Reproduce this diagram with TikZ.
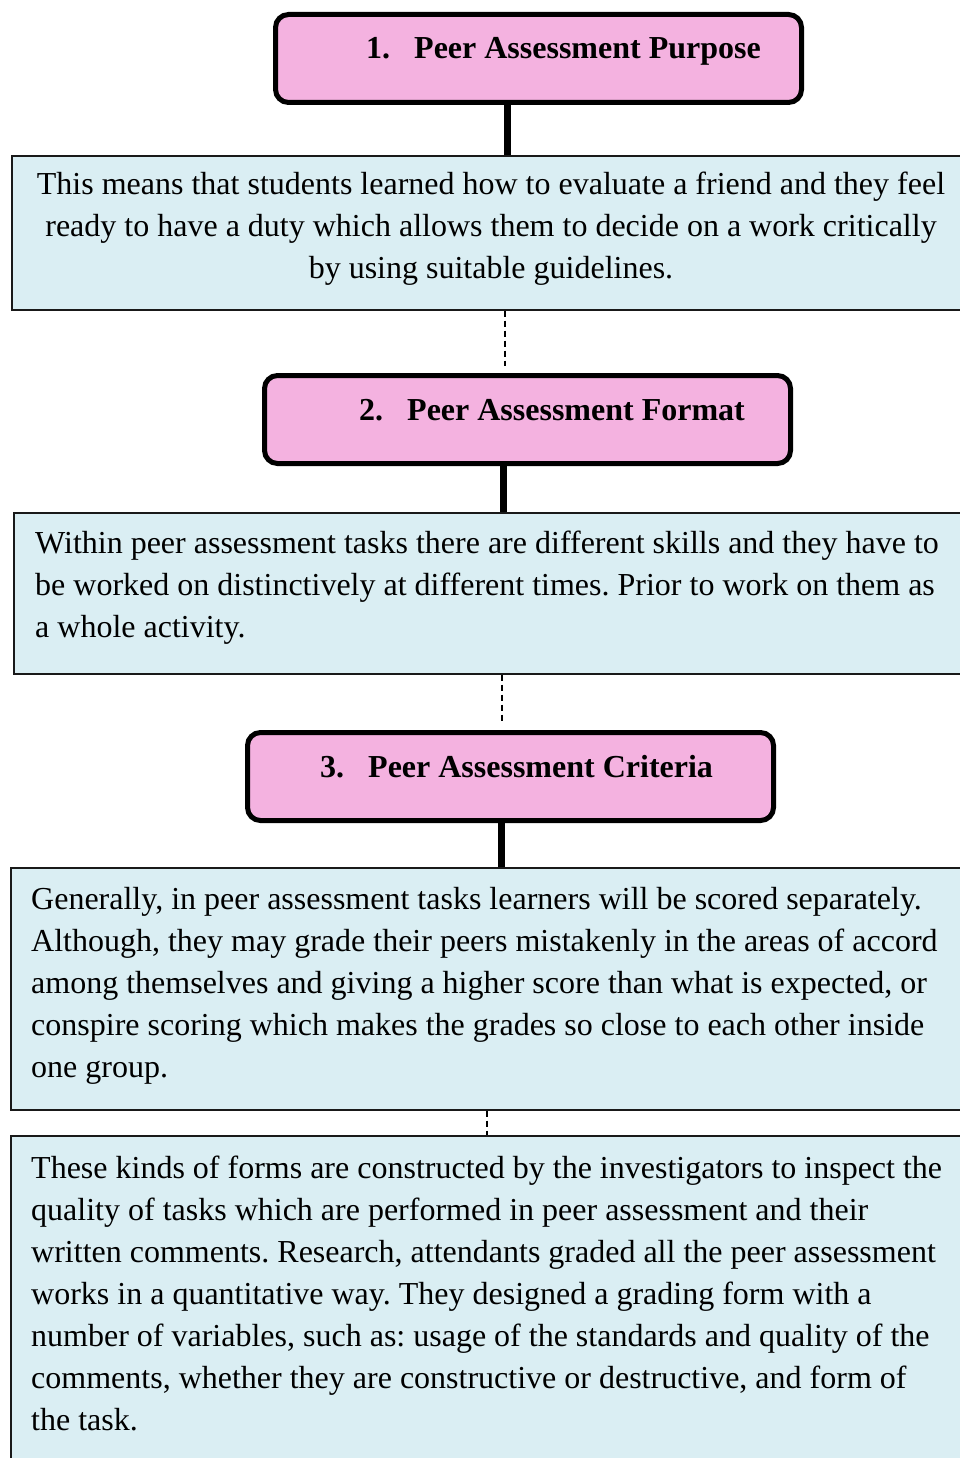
\documentclass[tikz,border=0pt]{standalone}
\usepackage{fontspec}
\setmainfont{Liberation Serif}
\usetikzlibrary{calc}
\definecolor{headpink}{HTML}{F4B2E0}
\definecolor{noteblue}{HTML}{DAEEF3}
\newcommand\hnum[1]{\makebox[48pt][l]{#1}}

\begin{document}
\begin{tikzpicture}[x=1pt, y=-1pt,
  headbox/.style={draw=black, line width=5pt, fill=headpink, rounded corners=13pt,
    minimum width=526pt, minimum height=88pt, anchor=north west, inner sep=0pt},
  notebox/.style={draw=black!90, line width=1.6pt, fill=noteblue,
    minimum width=1000pt, anchor=north west, inner sep=0pt},
  headtext/.style={font=\fontsize{32}{42}\selectfont\bfseries, anchor=base west, inner sep=0pt},
  body/.style={font=\fontsize{32}{42}\selectfont,
    execute at begin node={\spaceskip=8pt\xspaceskip=8pt\relax},
    text width=1000pt, inner sep=0pt},
  stem/.style={line width=7pt},
  link/.style={line width=1.5pt, dash pattern=on 6pt off 4pt}]

\useasboundingbox (0,0) rectangle (960,1458);
\clip (0,0) rectangle (960,1458);

% headings
\node[headbox] (head1) at (273,12) {};
\node[headtext] (head1txt) at (366,59) {\hnum{1.}Peer Assessment Purpose};

\node[headbox] (head2) at (262,373) {};
\node[headtext] (head2txt) at (359,420) {\hnum{2.}Peer Assessment Format};

\node[headbox] (head3) at (245,730) {};
\node[headtext] (head3txt) at (320,777) {\hnum{3.}Peer Assessment Criteria};

% notes
\node[notebox, minimum height=154pt] (purposenote) at (11,155) {};
\node[body, align=center, anchor=base] (purposetxt) at (491,195)
  {This means that students learned how to evaluate a friend and they feel\\
   ready to have a duty which allows them to decide on a work critically\\
   by using suitable guidelines.};

\node[notebox, minimum height=161pt] (formatnote) at (13,512) {};
\node[body, align=left, anchor=base west] (formattxt) at (35,553)
  {Within peer assessment tasks there are different skills and they have to\\
   be worked on distinctively at different times. Prior to work on them as\\
   a whole activity.};

\node[notebox, minimum height=242pt] (criterianote) at (10,867) {};
\node[body, align=left, anchor=base west] (criteriatxt) at (31,909)
  {Generally, in peer assessment tasks learners will be scored separately.\\
   Although, they may grade their peers mistakenly in the areas of accord\\
   among themselves and giving a higher score than what is expected, or\\
   conspire scoring which makes the grades so close to each other inside\\
   one group.};

\node[notebox, minimum height=340pt] (formnote) at (10,1135) {};
\node[body, align=left, anchor=base west] (formtxt) at (31,1178)
  {These kinds of forms are constructed by the investigators to inspect the\\
   quality of tasks which are performed in peer assessment and their\\
   written comments. Research, attendants graded all the peer assessment\\
   works in a quantitative way. They designed a grading form with a\\
   number of variables, such as: usage of the standards and quality of the\\
   comments, whether they are constructive or destructive, and form of\\
   the task.};

% connectors
\coordinate (s1) at (507,0);
\coordinate (s2) at (503,0);
\coordinate (s3) at (501,0);
\coordinate (d1) at (505,0);
\coordinate (d2) at (502,0);
\coordinate (d3) at (487,0);

\draw[stem] (head1.south -| s1) -- (purposenote.north -| s1);
\draw[link, shorten >=7pt] (purposenote.south -| d1) -- (head2.north -| d1);
\draw[stem] (head2.south -| s2) -- (formatnote.north -| s2);
\draw[link, shorten >=7pt] (formatnote.south -| d2) -- (head3.north -| d2);
\draw[stem] (head3.south -| s3) -- (criterianote.north -| s3);
\draw[link] (criterianote.south -| d3) -- (formnote.north -| d3);

\end{tikzpicture}
\end{document}
